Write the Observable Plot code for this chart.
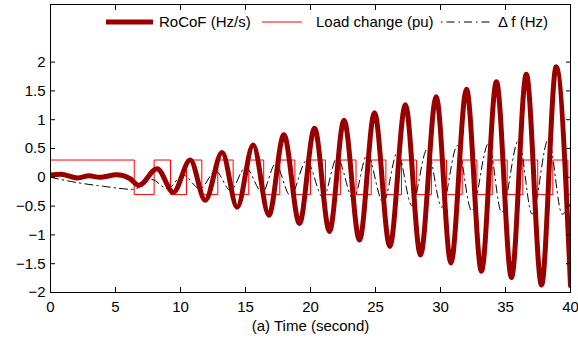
<!DOCTYPE html>
<html>
<head>
<meta charset="utf-8">
<script src="https://cdn.jsdelivr.net/npm/d3@7"></script>
<script src="https://cdn.jsdelivr.net/npm/@observablehq/plot@0.6"></script>
<style>
  html, body { margin: 0; padding: 0; background: #fff; }
  #wrap { position: relative; width: 578px; height: 339px; font-family: "Liberation Sans", Arial, Helvetica, sans-serif; }
  .lg { position: absolute; font-size: 15px; line-height: 1; white-space: nowrap; color: #000; }
  .sw { position: absolute; }
</style>
</head>
<body>
<div id="wrap"></div>
<script>
// ---- data ----
// RoCoF (Hz/s): extrema
const rocofT = [0, 0.8, 2.1, 2.95, 3.8, 5.1, 6.1, 6.8, 8.2, 9.45, 10.75, 11.9, 13.2, 14.36, 15.59, 16.8, 17.95, 19.15, 20.31, 21.46, 22.58, 23.77, 24.92, 26.1, 27.3, 28.46, 29.67, 30.8, 32.0, 33.15, 34.3, 35.46, 36.6, 37.77, 38.9, 40];
const rocofV = [0.04, 0.055, -0.01, 0.025, 0.0, 0.045, -0.02, -0.14, 0.15, -0.26, 0.30, -0.40, 0.43, -0.52, 0.56, -0.66, 0.74, -0.80, 0.85, -0.94, 0.99, -1.09, 1.12, -1.20, 1.26, -1.35, 1.40, -1.49, 1.53, -1.63, 1.66, -1.74, 1.79, -1.87, 1.92, -1.88];

// Load change (pu): switching instants and level after each switch
const loadT = [0, 6.44, 7.97, 9.23, 10.46, 11.64, 12.87, 14.05, 15.25, 16.4, 17.64, 18.8, 20.0, 21.15, 22.3, 23.5, 24.67, 25.8, 27.0, 28.15, 29.3, 30.46, 31.67, 32.8, 33.98, 35.13, 36.33, 37.48, 38.64, 39.8, 40];
const loadV = [0.3, -0.3, 0.3, -0.3, 0.3, -0.3, 0.3, -0.3, 0.3, -0.3, 0.3, -0.3, 0.3, -0.3, 0.3, -0.3, 0.3, -0.3, 0.3, -0.3, 0.3, -0.3, 0.3, -0.3, 0.3, -0.3, 0.3, -0.3, 0.3, -0.3, -0.3];

// Delta f (Hz)
const dfT = [0, 2, 4.2, 6.4, 7.8, 9.0, 10.2, 11.5, 12.7, 13.85, 15.0, 16.3, 17.3, 18.46, 19.7, 20.97, 22.05, 23.3, 24.36, 25.6, 26.7, 27.8, 28.98, 30.1, 31.3, 32.4, 33.7, 34.7, 36.0, 37.05, 38.3, 39.36, 40];
const dfV = [0, -0.09, -0.16, -0.21, -0.04, -0.2, 0.04, -0.2, 0.11, -0.23, 0.17, -0.26, 0.23, -0.32, 0.29, -0.35, 0.34, -0.38, 0.39, -0.44, 0.44, -0.49, 0.49, -0.52, 0.55, -0.58, 0.59, -0.61, 0.64, -0.64, 0.66, -0.64, -0.45];

const xTicks = [0, 5, 10, 15, 20, 25, 30, 35, 40];
const yTicks = [-2, -1.5, -1, -0.5, 0, 0.5, 1, 1.5, 2];

const legendLabels = ["RoCoF (Hz/s)", "Load change (pu)", "\u0394 f (Hz)"];

// ---- build ----
const rocof = rocofT.map((t, i) => ({t, v: rocofV[i]}));
const load = loadT.map((t, i) => ({t, v: loadV[i]}));
const df = dfT.map((t, i) => ({t, v: dfV[i]}));
const fmt = d => (d < 0 ? "\u2212" : "") + Math.abs(d);

const chart = Plot.plot({
  width: 578,
  height: 339,
  marginLeft: 50,
  marginRight: 8,
  marginTop: 4,
  marginBottom: 47,
  style: {fontFamily: '"Liberation Sans", Arial, Helvetica, sans-serif', fontSize: "15px", background: "#fff", color: "#000"},
  x: {domain: [0, 40]},
  y: {domain: [-2, 3]},
  marks: [
    Plot.line(load, {x: "t", y: "v", stroke: "#ff0000", strokeWidth: 1, curve: "step-after", clip: true}),
    Plot.line(df, {x: "t", y: "v", stroke: "#000", strokeWidth: 1, strokeDasharray: "8,4,1.5,4", curve: "monotone-x", clip: true}),
    Plot.line(rocof, {x: "t", y: "v", stroke: "#990000", strokeWidth: 5, curve: "monotone-x", clip: true}),
    Plot.frame({stroke: "#000", strokeWidth: 1}),
    Plot.axisX(xTicks, {anchor: "bottom", tickSize: -5, tickPadding: 14, tickFormat: d => String(d), label: "(a) Time (second)", labelAnchor: "center", labelArrow: "none", labelOffset: 38}),
    Plot.axisX(xTicks, {anchor: "top", tickSize: -5, tickFormat: () => "", label: null}),
    Plot.axisY(yTicks, {anchor: "left", tickSize: -5, tickPadding: 10, tickFormat: fmt, label: null}),
    Plot.axisY(yTicks, {anchor: "right", tickSize: -5, tickFormat: () => "", label: null})
  ]
});
const wrap = document.getElementById("wrap");
wrap.appendChild(chart);

// ---- legend overlay (inside the axes, top) ----
function swatch(left, width, stroke, sw, dash) {
  const ns = "http://www.w3.org/2000/svg";
  const s = document.createElementNS(ns, "svg");
  s.setAttribute("class", "sw");
  s.setAttribute("width", width);
  s.setAttribute("height", 10);
  s.style.left = left + "px";
  s.style.top = "17px";
  const l = document.createElementNS(ns, "line");
  l.setAttribute("x1", 0); l.setAttribute("x2", width);
  l.setAttribute("y1", 5); l.setAttribute("y2", 5);
  l.setAttribute("stroke", stroke);
  l.setAttribute("stroke-width", sw);
  if (dash) l.setAttribute("stroke-dasharray", dash);
  s.appendChild(l);
  wrap.appendChild(s);
}
function label(left, text) {
  const d = document.createElement("div");
  d.className = "lg";
  d.style.left = left + "px";
  d.style.top = "14px";
  d.textContent = text;
  wrap.appendChild(d);
}
swatch(106, 47, "#990000", 5);
label(159, legendLabels[0]);
swatch(262, 40, "#ff0000", 1);
label(316, legendLabels[1]);
swatch(441, 50, "#000", 1, "1.5,4,8,4");
label(498, legendLabels[2]);
</script>
</body>
</html>
